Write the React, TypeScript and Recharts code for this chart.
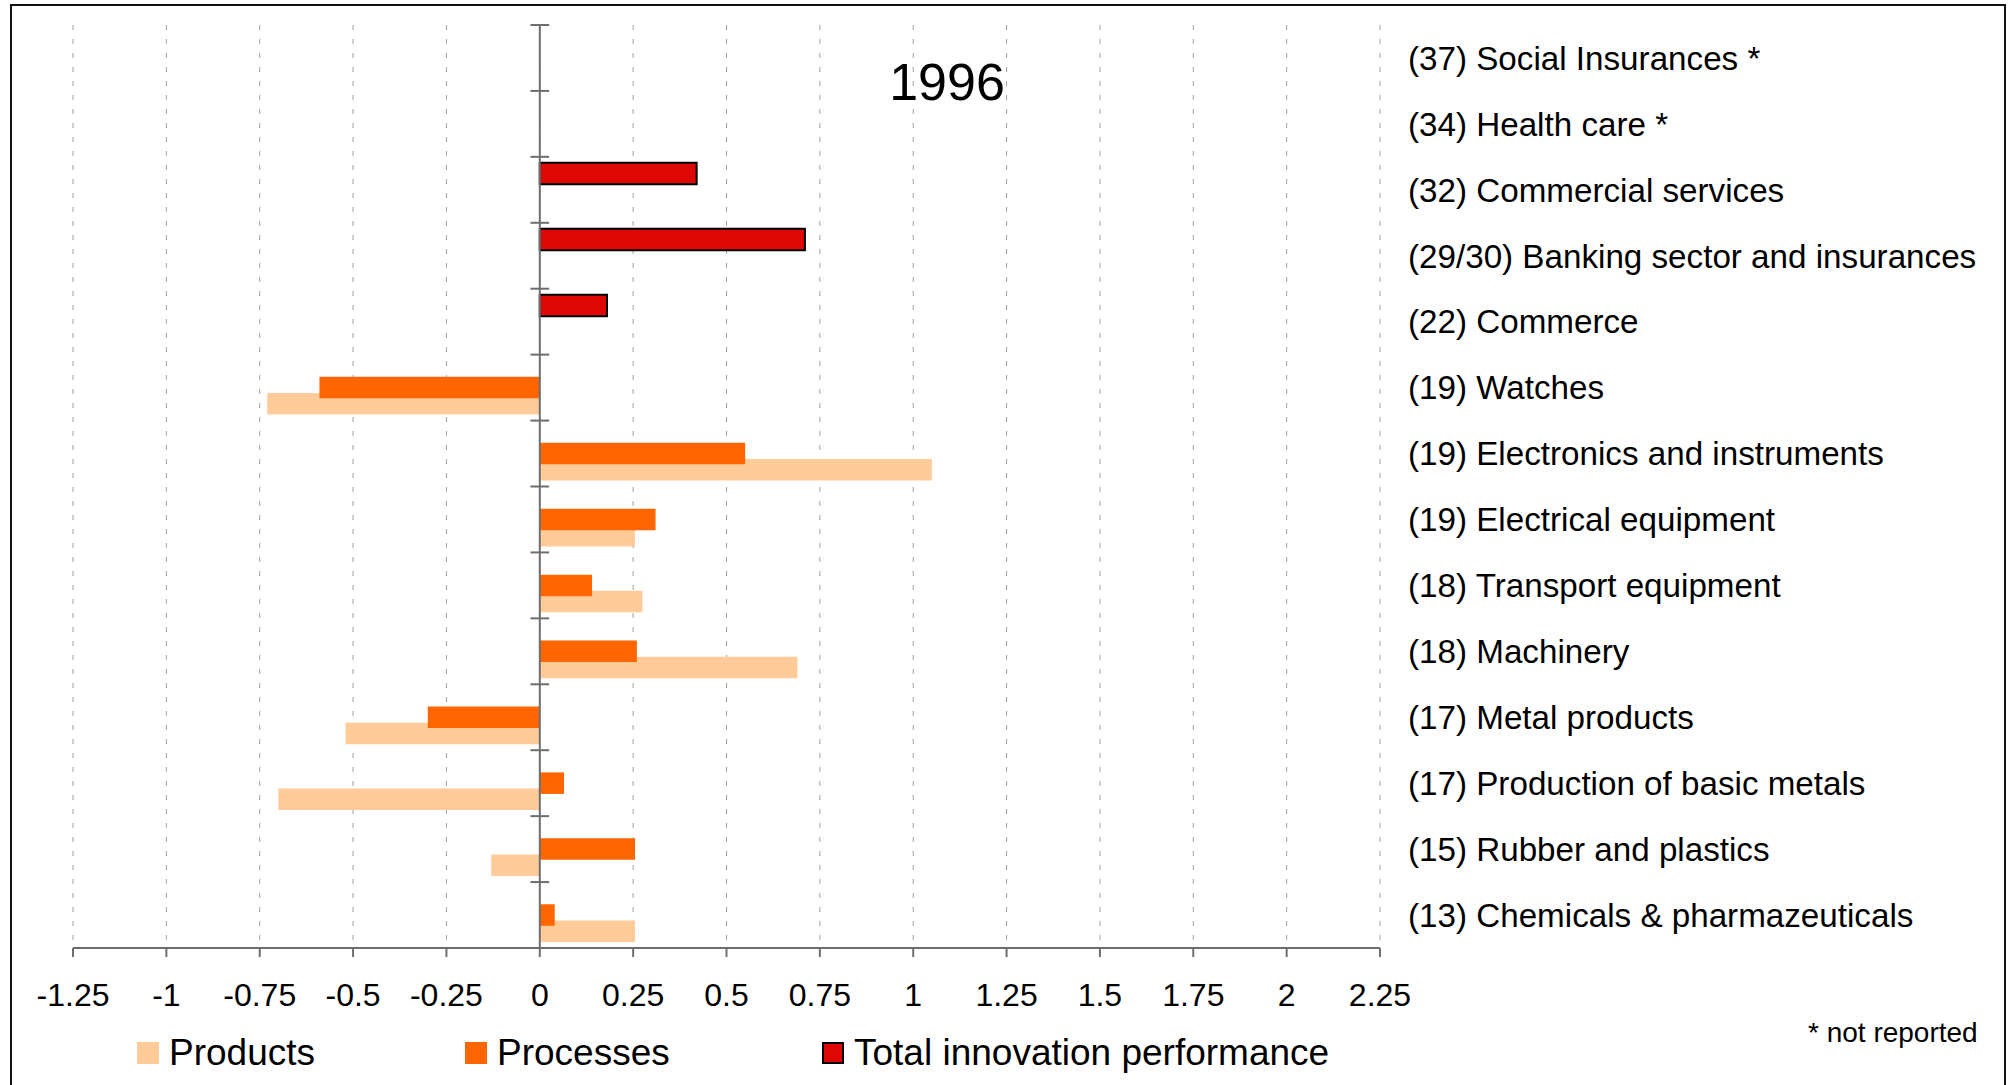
import {
  BarChart,
  Bar,
  XAxis,
  YAxis,
  CartesianGrid,
  ReferenceLine,
  Legend,
} from "recharts";

const FONT = '"Liberation Sans", Arial, sans-serif';
const AXIS = "#6e6e6e";

// categories from top to bottom
const CATEGORIES = [
  "(37) Social Insurances *",
  "(34) Health care *",
  "(32) Commercial services",
  "(29/30) Banking sector and insurances",
  "(22) Commerce",
  "(19) Watches",
  "(19) Electronics and instruments",
  "(19) Electrical equipment",
  "(18) Transport equipment",
  "(18) Machinery",
  "(17) Metal products",
  "(17) Production of basic metals",
  "(15) Rubber and plastics",
  "(13) Chemicals & pharmazeuticals",
];

const PRODUCTS = [null, null, null, null, null, -0.73, 1.05, 0.255, 0.275, 0.69, -0.52, -0.7, -0.13, 0.255];
const PROCESSES = [null, null, null, null, null, -0.59, 0.55, 0.31, 0.14, 0.26, -0.3, 0.065, 0.255, 0.04];
const TOTAL = [null, null, 0.42, 0.71, 0.18, null, null, null, null, null, null, null, null, null];

const X_TICKS = [-1.25, -1, -0.75, -0.5, -0.25, 0, 0.25, 0.5, 0.75, 1, 1.25, 1.5, 1.75, 2, 2.25];

const SERIES = [
  { key: "products", name: "Products", color: "#FFCC99", border: false },
  { key: "processes", name: "Processes", color: "#FF6600", border: false },
  { key: "total", name: "Total innovation performance", color: "#DD0806", border: true },
];

const data = CATEGORIES.map((name, i) => ({
  name,
  products: PRODUCTS[i],
  processes: PROCESSES[i],
  total: TOTAL[i],
}));

// cross ticks on the zero axis sit on the category boundaries
const boundaryTicks = [
  ...CATEGORIES.map((c) => ({ cat: c, position: "start" })),
  { cat: CATEGORIES[CATEGORIES.length - 1], position: "end" },
];

const LEGEND_WIDTHS = [328, 357, 600];

const renderLegend = () => (
  <div style={{ display: "flex", fontFamily: FONT, fontSize: 37, lineHeight: "36px", color: "#000" }}>
    {SERIES.map((s, i) => (
      <div key={s.key} style={{ display: "flex", alignItems: "center", width: LEGEND_WIDTHS[i] }}>
        <span
          style={{
            display: "inline-block",
            width: 22,
            height: 22,
            background: s.color,
            border: s.border ? "2px solid #000" : "none",
            boxSizing: "border-box",
            marginRight: 10,
          }}
        />
        <span style={{ whiteSpace: "nowrap" }}>{s.name}</span>
      </div>
    ))}
  </div>
);

export default function App() {
  return (
    <div
      style={{
        position: "absolute",
        left: 0,
        top: 0,
        width: 2013,
        height: 1085,
        overflow: "hidden",
        background: "#fff",
        fontFamily: FONT,
      }}
    >
      <div
        style={{
          position: "absolute",
          left: 10,
          top: 4,
          width: 1996,
          height: 1200,
          border: "2px solid #111",
          boxSizing: "border-box",
        }}
      />
      <div style={{ position: "absolute", left: 0, top: 0 }}>
        <BarChart
          width={2013}
          height={1085}
          data={data}
          layout="vertical"
          margin={{ top: 25, right: 0, bottom: 0, left: 73 }}
          barSize={21.5}
          barGap={-5.3}
        >
          <CartesianGrid horizontal={false} stroke="#a0a0a0" strokeDasharray="5 9" />
          <XAxis
            type="number"
            domain={[-1.25, 2.25]}
            ticks={X_TICKS}
            interval={0}
            height={137}
            tickSize={9}
            tickMargin={26}
            axisLine={{ stroke: AXIS, strokeWidth: 2 }}
            tickLine={{ stroke: AXIS, strokeWidth: 2 }}
            tick={{ fill: "#000", fontSize: 32, fontFamily: FONT }}
          />
          <YAxis
            type="category"
            dataKey="name"
            orientation="right"
            width={633}
            axisLine={false}
            tickLine={false}
            tickSize={0}
            tickMargin={28}
            interval={0}
            tick={{ fill: "#000", fontSize: 33.2, fontFamily: FONT }}
          />
          <Bar
            dataKey="total"
            name="Total innovation performance"
            fill="#DD0806"
            stroke="#000"
            strokeWidth={2}
            isAnimationActive={false}
            zIndex={302}
          />
          <Bar
            dataKey="processes"
            name="Processes"
            fill="#FF6600"
            isAnimationActive={false}
            zIndex={301}
          />
          <Bar
            dataKey="products"
            name="Products"
            fill="#FFCC99"
            isAnimationActive={false}
            zIndex={300}
          />
          <ReferenceLine x={0} stroke={AXIS} strokeWidth={2} zIndex={400} />
          {boundaryTicks.map((t, i) => (
            <ReferenceLine
              key={i}
              position={t.position}
              segment={[
                { x: -0.025, y: t.cat },
                { x: 0.025, y: t.cat },
              ]}
              stroke={AXIS}
              strokeWidth={2}
              ifOverflow="visible"
              zIndex={400}
            />
          ))}
          <Legend
            layout="horizontal"
            verticalAlign="middle"
            align="center"
            content={renderLegend}
            wrapperStyle={{ left: 137, top: 1035, width: 1400, height: 36 }}
          />
        </BarChart>
      </div>
      <div
        style={{
          position: "absolute",
          left: 947,
          top: 56,
          transform: "translateX(-50%)",
          fontSize: 52,
          lineHeight: "52px",
          color: "#000",
        }}
      >
        1996
      </div>
      <div
        style={{
          position: "absolute",
          left: 1808,
          top: 1019,
          fontSize: 28,
          lineHeight: "28px",
          color: "#000",
          whiteSpace: "nowrap",
        }}
      >
        * not reported
      </div>
    </div>
  );
}
